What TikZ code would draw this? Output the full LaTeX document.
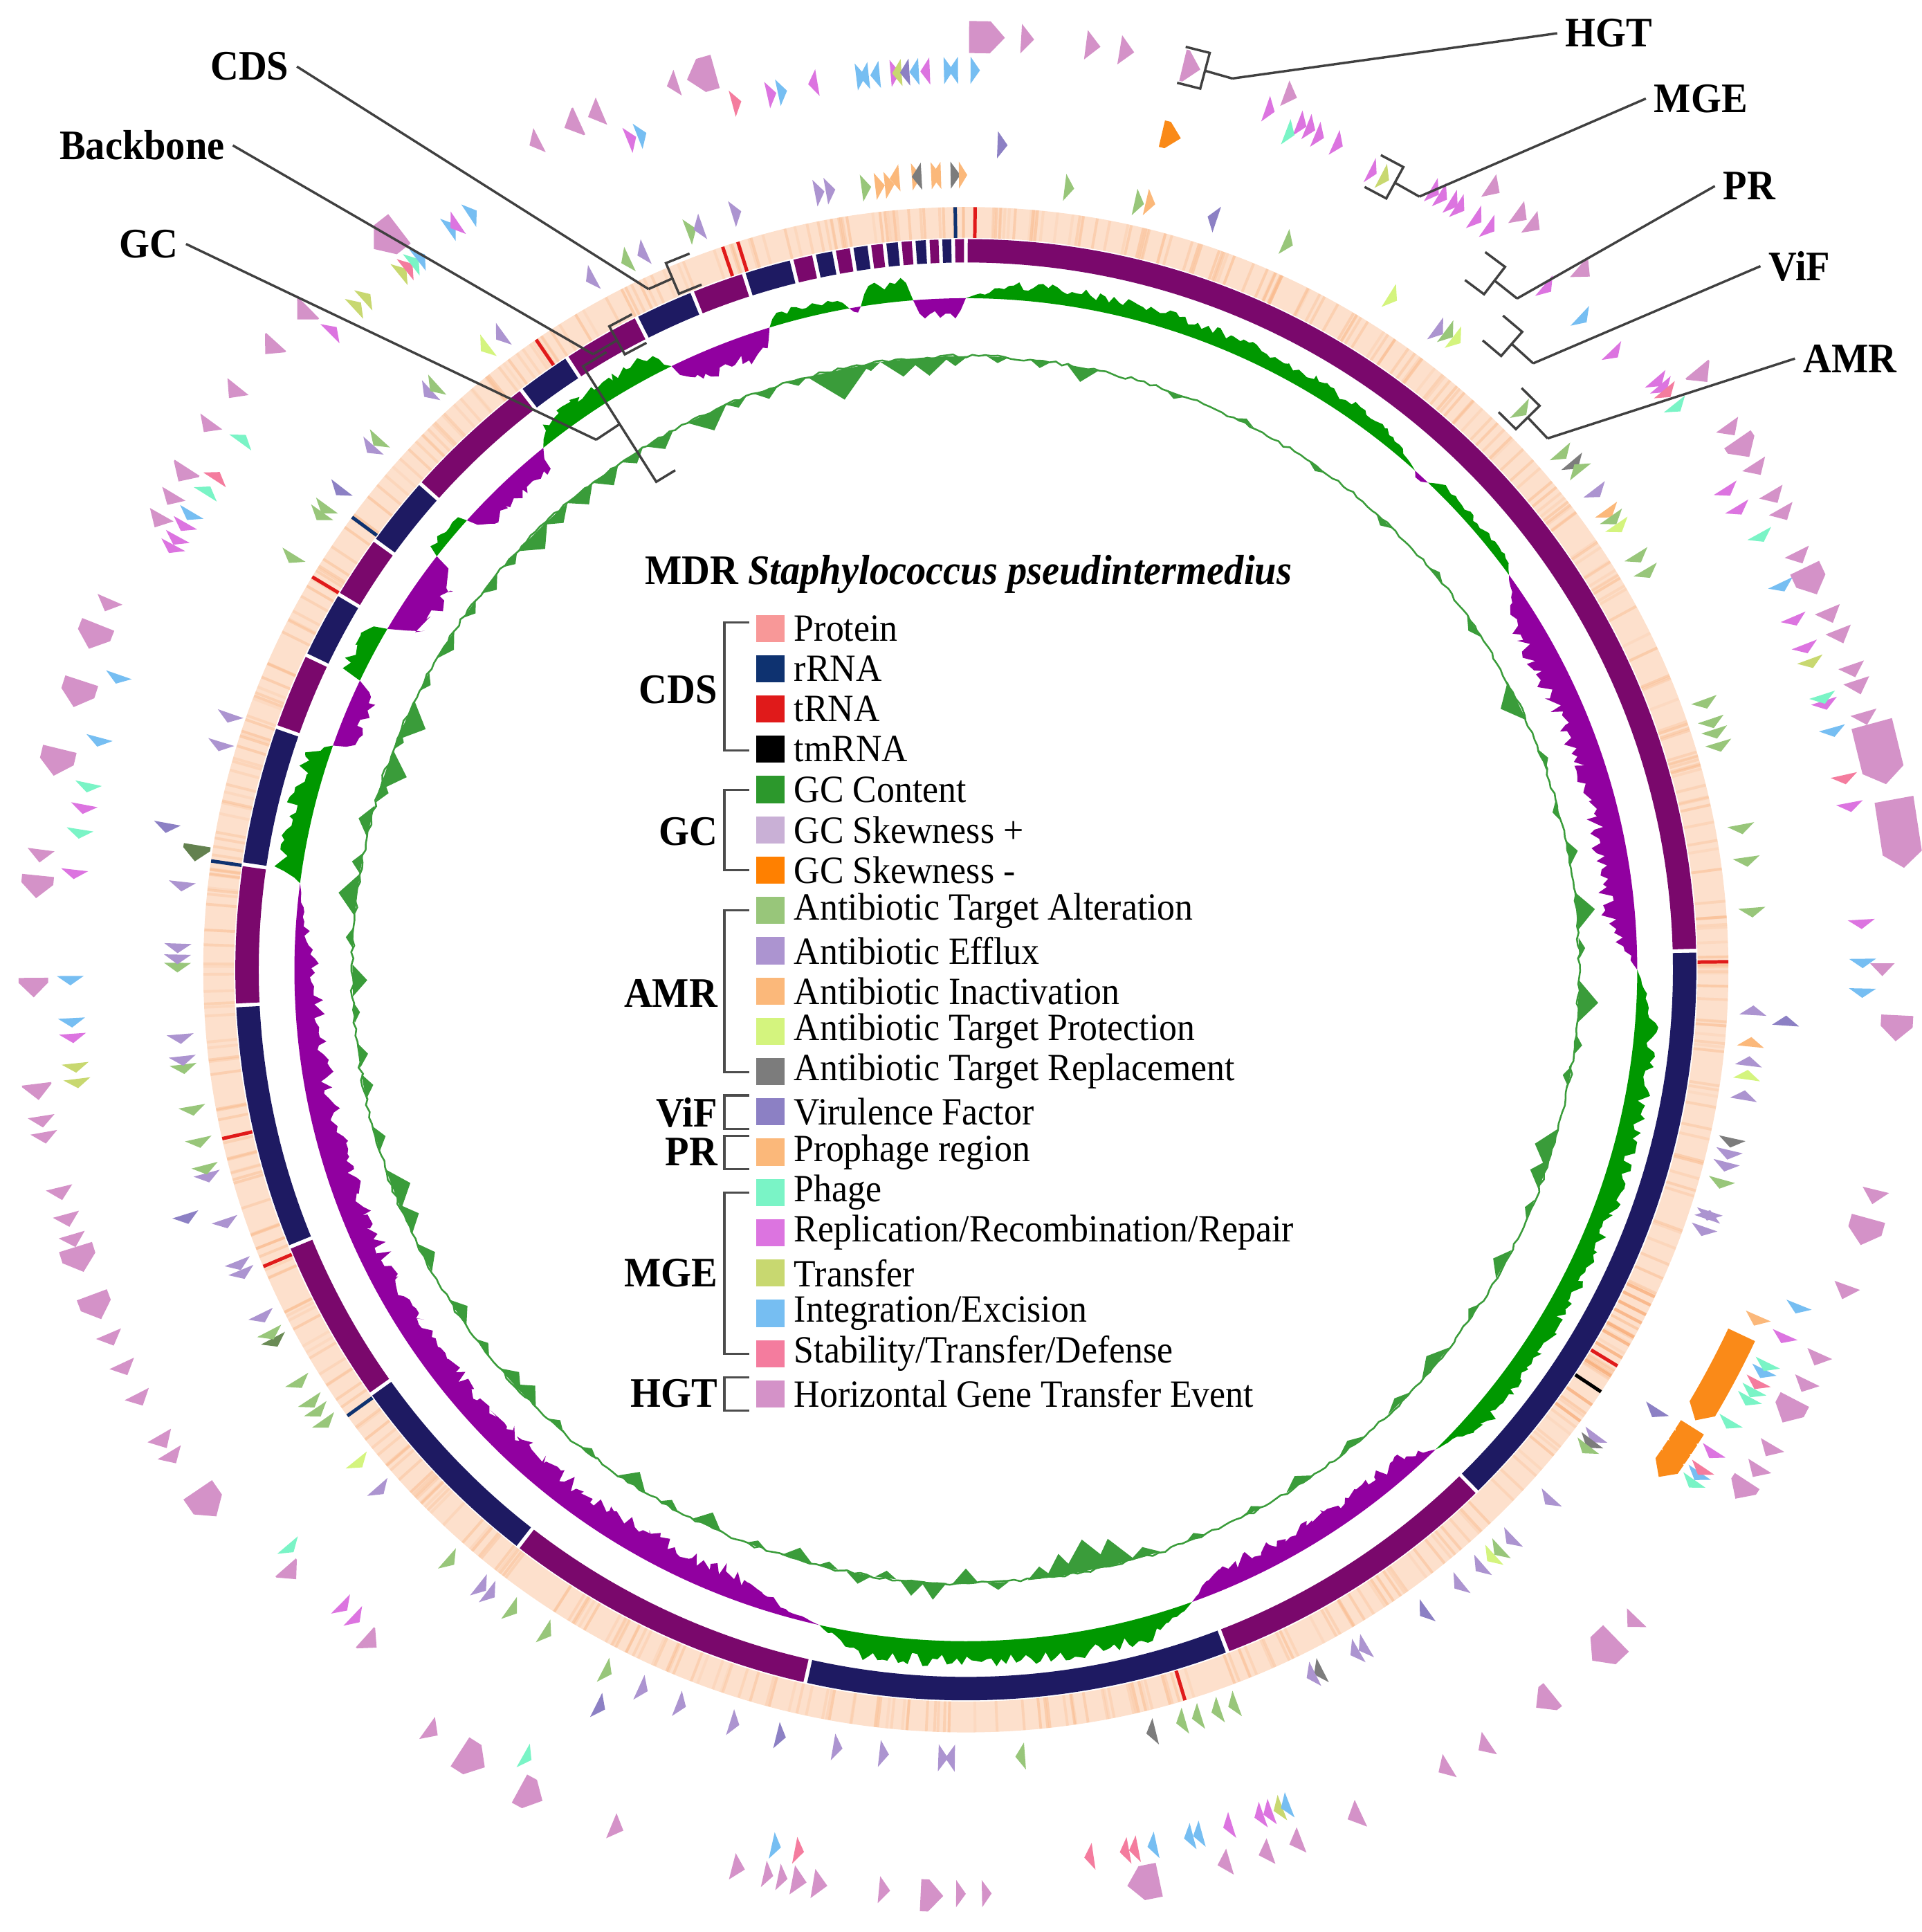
\documentclass[tikz,border=0pt]{standalone}
\usepackage{fontspec}
\setmainfont{Liberation Serif}[FakeStretch=0.93]

\definecolor{bbpurple}{RGB}{122,8,108}
\definecolor{bbnavy}{RGB}{30,26,98}
\definecolor{cdsbg}{RGB}{253,224,204}
\definecolor{cdsln}{RGB}{250,186,140}
\definecolor{cdsdark}{RGB}{247,160,100}
\definecolor{gcgreen}{RGB}{0,152,0}
\definecolor{gcpurple}{RGB}{145,0,160}
\definecolor{skgreen}{RGB}{58,156,58}
\definecolor{cProtein}{RGB}{248,152,152}
\definecolor{cRRNA}{RGB}{14,50,112}
\definecolor{cTRNA}{RGB}{224,26,26}
\definecolor{cGC}{RGB}{44,152,44}
\definecolor{cSkP}{RGB}{201,176,214}
\definecolor{cSkM}{RGB}{255,128,0}
\definecolor{ta}{RGB}{152,198,122}
\definecolor{ef}{RGB}{172,148,208}
\definecolor{ia}{RGB}{251,184,122}
\definecolor{tp}{RGB}{212,244,126}
\definecolor{tr}{RGB}{124,124,124}
\definecolor{vf}{RGB}{140,128,196}
\definecolor{pr}{RGB}{251,184,122}
\definecolor{prb}{RGB}{250,138,24}
\definecolor{ph}{RGB}{122,244,198}
\definecolor{rr}{RGB}{220,116,224}
\definecolor{tf}{RGB}{200,216,112}
\definecolor{ie}{RGB}{118,190,242}
\definecolor{st}{RGB}{244,124,158}
\definecolor{hg}{RGB}{212,146,200}

% one gene arrow: start angle, length (deg, signed), radius, half height, colour
\newcommand\gene[5]{%
  \pgfmathsetmacro\gEnd{#1+#2}%
  \pgfmathsetmacro\gBody{#1+#2-(#2>0?1:-1)*min(abs(#2),0.9)}%
  \fill[fill=#5] ({#1-90}:{#3-#4}) -- ({\gBody-90}:{#3-#4}) -- ({\gEnd-90}:#3)
    -- ({\gBody-90}:{#3+#4}) -- ({#1-90}:{#3+#4}) -- cycle;}

% bracket on a track: name, angle, r1, r2, tick, stub
\newcommand\trackmark[6]{%
  \coordinate (#1t1) at ({#2+#5-90}:#3);
  \coordinate (#1b1) at ({#2-90}:#3);
  \coordinate (#1b2) at ({#2-90}:#4);
  \coordinate (#1t2) at ({#2+#5-90}:#4);
  \coordinate (#1m) at ({#2-90}:{(#3+#4)/2});
  \coordinate (#1e) at ({#2+#6-90}:{(#3+#4)/2});
  \draw[leader] (#1t1) -- (#1b1) -- (#1b2) -- (#1t2);
  \draw[leader] (#1m) -- (#1e);}

\tikzset{
  leader/.style={draw=black!75, line width=0.55pt},
  outlbl/.style={font=\fontsize{9.7}{11}\selectfont\bfseries, inner sep=0.6mm},
  grplbl/.style={font=\fontsize{9.7}{11}\selectfont\bfseries, inner sep=0pt, anchor=east},
  item/.style={font=\fontsize{8.9}{10}\selectfont, inner sep=0pt, anchor=west},
  legbrace/.style={draw=black!70, line width=0.5pt}
}

\begin{document}
\begin{tikzpicture}[x=0.1mm, y=-0.1mm]
\useasboundingbox (0,0) rectangle (1560,1568);
\pgfmathsetseed{42}

\begin{scope}[shift={(784,787)}]
  % CDS ring
  \fill[cdsbg, even odd rule] (0,0) circle[radius=619] (0,0) circle[radius=594];
  \foreach \i in {1,...,520}{
    \pgfmathsetmacro\ang{360*rnd}
    \pgfmathsetmacro\op{0.15+0.4*rnd}
    \draw[cdsln, line width=0.22mm, opacity=\op] ({\ang-90}:594) -- ({\ang-90}:619);
  }
  \foreach \ang in {115.4,116.1,116.9,117.6,118.8,119.5,120.6,122.2,124.8,126.3}
    \draw[cdsdark, line width=0.25mm, opacity=0.6] ({\ang-90}:594) -- ({\ang-90}:619);
  \foreach \ang/\cl in {0.7/cTRNA, 325.7/cTRNA, 341.4/cTRNA, 342.6/cTRNA, 301/cTRNA,
      257.2/cTRNA, 247.1/cTRNA, 89.4/cTRNA, 121.3/cTRNA, 163.3/cTRNA,
      359.2/cRRNA, 278.2/cRRNA, 306.4/cRRNA, 234.2/cRRNA, 123.6/black}
    \draw[draw=\cl, line width=0.28mm] ({\ang-90}:594) -- ({\ang-90}:619);

  % backbone
  \foreach \pa/\pb/\cl in {0/88.5/bbpurple, 88.5/135.6/bbnavy, 135.6/159/bbpurple,
      159/192.7/bbnavy, 192.7/217.8/bbpurple, 217.8/234.5/bbnavy, 234.5/247.7/bbpurple,
      247.7/267.2/bbnavy, 267.2/278.3/bbpurple, 278.3/289.4/bbnavy, 289.4/295.5/bbpurple,
      295.5/300.9/bbnavy, 300.9/306/bbpurple, 306/311.7/bbnavy, 311.7/322.5/bbpurple,
      322.5/326.9/bbnavy, 326.9/333.2/bbpurple, 333.2/338/bbnavy, 338/342.3/bbpurple,
      342.3/346.2/bbnavy, 346.2/348/bbpurple, 348/349.6/bbnavy, 349.6/351/bbpurple,
      351/352.4/bbnavy, 352.4/353.6/bbpurple, 353.6/354.8/bbnavy, 354.8/355.9/bbpurple,
      355.9/357/bbnavy, 357/358/bbpurple, 358/359/bbnavy, 359/360/bbpurple}{
    \pgfmathsetmacro\sa{\pa+0.15}
    \pgfmathsetmacro\sb{\pb-0.15}
    \fill[fill=\cl] ({\sa-90}:574) arc[start angle=\sa-90, end angle=\sb-90, radius=574]
      -- ({\sb-90}:593) arc[start angle=\sb-90, end angle=\sa-90, radius=593] -- cycle;
  }

  % GC plot
  \foreach \pa/\pb/\psg/\pam in {0/42/1/16, 42/43.5/-1/5, 43.5/54/1/9, 54/90/-1/28,
      90/135.6/1/20, 135.6/160.3/-1/22, 160.3/192.6/1/22, 192.6/277.4/-1/26,
      277.4/289.5/1/24, 289.5/295.5/-1/22, 295.5/300.5/1/22, 300.5/308/-1/32,
      308/312/1/10, 312/321/-1/22, 321/334/1/20, 334/343/-1/25, 343/350/1/12,
      350/351/-1/6, 351/355.5/1/20, 355.5/360/-1/18}{
    \ifnum\psg>0 \def\gcc{gcgreen}\else\def\gcc{gcpurple}\fi
    \pgfmathtruncatemacro\ns{max(4,(\pb-\pa)*2.5)}
    \fill[fill=\gcc] plot[variable=\t, domain=\pa:\pb, samples=\ns]
      ({\t-90}:{545+\psg*\pam*min(1,3*sin(180*(\t-\pa)/(\pb-\pa)))*(0.5+0.5*rnd)})
      arc[start angle=\pb-90, end angle=\pa-90, radius=545] -- cycle;
  }

  % GC skew plot
  \draw[skgreen, line width=0.4pt] plot[variable=\t, domain=0:360, samples=600]
    ({\t-90}:{498+3*rnd-1.5});
  \foreach \ang/\hh/\ww in {3/-5/1, 7/-6/1, 11/-12/1.5, 20/-5/1, 27/4/1, 35/-4/1,
      43/-5/1, 50/4/1, 56/-6/1.2, 64/-15/2, 70/5/1, 75/-5/1, 79/8/1.2, 84.5/15/1.8,
      88/5/1, 93/16/2, 97/6/1, 100/-6/1, 107/-15/2, 109.5/-12/1.5, 113/-5/1,
      118.7/-10/1.5, 124/-6/1, 130/-10/2, 135/-6/1.5, 141/-6/1.5, 147/-8/1.5,
      152/-5/1, 158/-5/1, 163/-8/1.5, 166/-22/2, 168.5/-26/2.5, 171/-18/1.5,
      173/-10/1.2, 177/6/1, 180/-12/1.2, 183/14/1.2, 185/12/1.2, 187.5/-6/1,
      190/8/1.2, 193/-5/1, 196/-10/1.5, 200/-5/1, 205/-12/1.5, 209/-6/1,
      213/-12/1.5, 218/-5/1, 222/-6/1, 226/-12/1.5, 228/-10/1.5, 232/-6/1,
      236/-10/1.5, 242/-10/1.5, 246/-12/1.5, 249/-15/2, 254/-8/1.2, 259/-8/1.2,
      262/-8/1.2, 266/-5/1, 269/-12/1.5, 273/6/1, 277/15/2, 280/8/1, 284/10/1.5,
      287/-8/1.2, 289/-18/2, 292/-6/1, 294/-18/2, 298/-6/1, 302/-8/1.5, 306/-6/1,
      309/-8/1.2, 312/-6/1, 315/-15/2, 318/-10/1.5, 321/-12/1.5, 324/-12/1.5,
      327/-8/1.2, 330/-10/1.5, 335/-15/2, 338/-6/1, 341/-8/1.2, 344/-5/1,
      348/-25/3, 351/-6/1, 354/-14/2, 356.5/-15/2, 359/-8/1.2}
    \fill[skgreen] ({\ang-\ww-90}:498) -- ({\ang-90}:{498+\hh}) -- ({\ang+\ww-90}:498) -- cycle;

  % AMR and ViF
  \foreach \ga/\gl/\gr/\gc in {339.3/0.7/640/ta, 340.5/-0.7/640/ef, 342.8/0.7/642/ef,
      349/0.7/642/ef, 349.8/0.7/642/ef, 352.4/0.7/640/ta, 353.4/0.7/640/ia, 354.1/0.7/640/ia,
      355.2/-0.7/645/ia, 356.1/0.7/645/ia, 356.8/-0.7/645/tr, 357.5/0.7/645/ia,
      358.2/-0.7/645/ia, 358.9/0.7/645/tr, 359.5/0.6/645/ia, 7.2/0.7/640/ta,
      12.4/0.7/638/ta, 13.2/0.7/640/ia, 23.6/0.7/645/ta, 32.1/0.7/646/tp,
      36.2/0.7/645/ef, 36.9/0.7/648/ta, 37.6/0.7/648/tp, 44.6/0.7/640/ta, 48.9/0.7/640/ta,
      50/0.7/642/tr, 51/-0.7/642/ta, 52.6/0.7/642/ef, 54.3/0.7/640/ia, 54.9/0.7/640/ta,
      55.6/0.7/640/tp, 58.2/0.7/640/ta, 59.5/0.7/640/ta, 69.9/0.7/638/ta, 71.4/0.7/638/ta,
      72.2/0.7/638/ta, 73.2/0.7/638/ta, 79.4/0.7/640/ta, 81.8/0.7/640/ta, 85.5/0.7/640/ta,
      93.3/-0.7/640/ef, 95.6/-0.7/640/ia, 97/-0.7/640/ef, 98/-0.7/640/tp, 99.5/-0.7/640/ef,
      102.4/0.7/637/tr, 103.3/0.7/637/ef, 104.2/0.7/637/ef, 105.5/0.7/637/ta,
      108/0.7/635/ef, 108.6/-0.7/635/ef, 109.2/0.7/635/ef, 126.4/0.7/636/ef,
      126.9/0.7/636/tr, 127.4/0.7/636/ta, 132/0.7/640/ef, 136/0.7/640/ef, 137.2/0.7/640/ta,
      137.9/0.7/640/tp, 139/0.7/640/ef, 141/0.7/640/ef, 149.3/0.7/638/ef, 150/0.7/638/ef,
      153/0.7/638/tr, 153.6/0.7/638/ef, 159.7/0.7/635/ta, 161/0.7/635/ta, 162.5/0.7/635/ta,
      163.7/0.7/635/ta, 166/0.7/637/tr, 175.7/0.7/640/ta, 180.8/0.7/640/ef, 182/-0.7/640/ef,
      186.3/-0.7/640/ef, 189.7/-0.7/640/ef, 197.4/-0.7/640/ef, 201.5/-0.7/640/ef,
      204.5/-0.7/640/ef, 207.4/-0.7/640/ta, 212.6/-0.7/637/ta, 215.6/-0.7/637/ta,
      217.6/-0.7/637/ef, 218.4/-0.7/637/ef, 221.4/-0.7/637/ta, 228.7/-0.7/636/ef,
      231.2/-0.7/635/tp, 235/-0.7/637/ta, 236/-0.7/637/ta, 236.8/-0.7/637/ta,
      238.5/-0.7/637/ta, 242/-0.7/637/ta!70!black, 242.6/-0.7/637/ta, 244/-0.7/637/ef,
      247.5/-0.7/637/ef, 248.2/-0.7/637/ef, 251.4/-0.7/635/ef, 255/-0.7/638/ef,
      255.6/-0.7/638/ta, 257.6/-0.7/638/ta, 260/-0.7/638/ta, 263.1/-0.7/640/ta,
      263.7/-0.7/640/ef, 265.3/-0.7/640/ef, 270.5/-0.7/640/ta, 271.1/-0.7/640/ef,
      271.9/-0.7/640/ef, 276.4/-0.7/640/ef, 279.2/-1.2/632/ta!65!black, 287/-0.7/632/ef,
      289.2/-0.7/632/ef, 301.7/-0.7/641/ta, 305.4/-0.7/641/ta, 306/-0.7/641/ta,
      311.5/-0.7/642/ef, 312.2/-0.7/642/ta, 317.3/-0.7/640/ef, 317.9/-0.7/640/ta,
      322.6/-0.7/638/tp, 324/-0.7/638/ef, 331.8/-0.7/638/ef, 334.7/-0.7/638/ta,
      336/-0.7/638/ef, 2.2/0.7/670/vf, 18.5/-0.7/642/vf, 93.9/-0.7/667/vf,
      122.4/0.7/665/vf, 144.2/0.7/641/vf, 193.9/-0.7/640/vf, 206.7/-0.7/668/vf,
      252.6/-0.7/664/vf, 280.4/-0.7/659/vf, 307.7/-0.7/640/vf, 113.6/0.7/702/ia}
    \gene{\ga}{\gl}{\gr}{11}{\gc};

  % prophage regions
  \gene{13.2}{1.3}{697}{11}{prb}
  \foreach \ga in {115.2,116,...,120.2}
    \gene{\ga}{1.7}{696}{12}{prb};
  \foreach \ga in {122.2,123,...,125.4}
    \gene{\ga}{1.6}{697}{11}{prb};

  % MGE
  \foreach \ga/\gl/\gr/\gc in {353/0.6/730/ie, 353.8/-0.6/730/ie, 354.5/-0.6/730/ie,
      355.2/0.6/730/rr, 355.9/-0.6/730/tf, 356.4/-0.6/730/vf, 357/-0.6/730/ie,
      357.7/-0.6/730/rr, 358.6/0.6/730/ie, 359.5/-0.6/730/ie, 0.3/0.6/730/ie,
      350.5/-0.6/730/rr, 347.2/0.6/728/rr, 347.9/0.6/728/ie, 344.9/0.6/728/st,
      337.8/0.6/727/rr, 338.5/0.6/727/ie, 325/0.6/733/ie, 325.8/-0.6/733/rr,
      326.6/0.6/733/ie, 320.8/0.6/728/tf, 321.3/0.6/728/st, 321.8/0.6/728/ph,
      322.3/0.6/728/ie, 317.2/0.6/731/tf, 318/0.6/731/tf, 315/0.6/730/rr, 306/0.6/728/ph,
      303.1/0.6/728/st, 302/0.6/728/ph, 300.6/-0.6/730/ie, 299.8/-0.6/730/rr,
      298.8/-0.6/730/rr, 298.2/-0.6/730/rr, 289.2/-0.6/728/ie, 285/-0.6/728/ie,
      282/-0.6/728/ph, 280.6/-0.6/728/rr, 279/-0.6/728/ph, 276.4/-0.6/728/rr,
      269.6/-0.6/727/ie, 266.9/-0.6/727/ie, 265.9/-0.6/727/rr, 264/-0.6/727/tf,
      263/-0.6/727/tf, 229.7/-0.6/722/ph, 224.6/-0.6/723/rr, 223.5/-0.6/723/rr,
      209.4/-0.6/732/ph, 192.5/-0.6/728/ie, 191/-0.6/728/st, 171.8/0.6/727/st,
      169.5/0.6/727/st, 168.9/0.6/727/st, 167.7/0.6/727/ie, 165.3/0.6/727/ie,
      164.7/0.6/727/ie, 162.7/0.6/727/rr, 160/0.6/727/rr, 160.6/0.6/727/rr,
      159.3/0.6/727/tf, 158.8/0.6/727/ie, 125/0.6/722/ph, 124.4/0.6/722/ie,
      124/0.6/722/st, 122.7/0.6/722/rr, 120.5/0.6/721/ph, 118.6/0.6/725/ph,
      118/0.6/725/ph, 117.4/0.6/725/st, 116.6/0.6/725/ie, 116.1/0.6/725/ph,
      114/0.6/728/rr, 111.9/0.6/729/ie, 91.2/0.6/728/ie, 89.3/0.6/728/ie, 86.8/0.6/728/rr,
      79.3/0.6/730/rr, 77.5/0.6/730/st, 74.4/0.6/730/ie, 72.6/0.6/730/rr, 72.2/0.6/730/ph,
      69.8/0.6/730/tf, 68.8/0.6/730/rr, 66.9/0.6/730/rr, 64.6/0.6/732/ie, 61.2/0.6/735/ph,
      59/0.6/730/rr, 57.6/0.6/730/rr, 51.4/0.6/736/ph, 49.4/0.6/737/rr, 49.9/0.6/737/rr,
      50.3/0.6/737/st, 46.2/0.6/726/rr, 43.2/0.6/728/ie, 40.2/0.6/727/rr, 35/0.6/737/rr,
      34/0.6/737/rr, 32.7/0.6/737/rr, 32.2/0.6/737/rr, 31.4/0.6/737/rr, 30.8/0.6/737/rr,
      27.6/0.6/727/tf, 26.8/0.5/727/rr, 24/0.6/735/rr, 22.7/0.6/735/rr, 22/0.6/738/rr,
      21.4/0.6/738/rr, 20.9/0.6/728/ph, 19.2/0.6/740/rr}
    \gene{\ga}{\gl}{\gr}{11}{\gc};

  % HGT
  \foreach \ga/\gl/\gr/\gh in {0.2/2.2/757/13, 3.4/0.8/757/12, 7.4/0.9/757/12,
      9.5/0.9/757/12, 13.5/1.1/755/13, 20/0.8/757/11, 33.7/0.8/765/11, 36/0.8/760/11,
      37/0.8/760/11, 41.1/0.9/757/11, 50.6/1.0/768/12, 54.4/0.8/760/11, 55.5/1.3/760/13,
      57.3/0.8/760/11, 59.3/0.8/760/11, 60.5/0.8/760/11, 63.3/0.8/755/11, 64.4/1.8/755/13,
      67.3/0.9/758/11, 68.7/0.9/760/11, 71/0.8/760/11, 72/0.9/760/11, 74/0.8/758/11,
      74.8/3.8/762/17, 79.6/4.2/766/16, 89.6/0.8/744/10, 92.8/1.6/757/13, 103.6/0.9/760/11,
      105.4/1.7/760/14, 109.7/0.9/760/11, 114.2/0.8/760/11, 116/0.8/760/11,
      117.4/1.6/758/13, 120.5/0.8/760/11, 122/0.8/760/11, 123.2/1.3/758/12, 134/0.8/757/11,
      135.8/2.0/757/15, 141/1.3/757/12, 145.9/0.8/758/11, 148.7/0.8/756/11,
      154.9/0.9/756/12, 158.9/0.8/757/11, 160.9/0.8/757/11, 163.5/0.8/755/11,
      168/2.0/755/14, 179/-0.6/750/11, 180.6/-0.6/750/11, 182.8/-1.4/752/13,
      185.4/-0.7/750/11, 189.5/-0.9/752/12, 190.8/-0.9/752/12, 191.7/-0.6/752/11,
      192.6/-0.6/752/11, 194.6/-0.8/752/11, 202.5/-0.8/752/11, 208.6/-1.6/757/13,
      212.9/-1.8/756/14, 215.4/-0.8/755/11, 222/-1.0/729/11, 228.7/-1.0/735/11,
      235.9/-2.0/753/14, 238.8/-0.8/756/11, 240/-0.9/756/11, 242.9/-0.8/756/11,
      245/-0.8/756/11, 247/-0.8/756/11, 249.6/-1.6/757/13, 252.7/-1.6/757/14,
      253.5/-0.8/757/11, 254.8/-0.8/757/11, 256.5/-0.8/757/11, 260/-0.7/760/11,
      261/-0.7/760/11, 263/-1.0/760/12, 269.5/-1.2/757/12, 275.8/-1.4/757/13,
      277.4/-0.8/757/11, 283.7/-1.7/757/14, 288.1/-1.7/755/14, 291.7/-1.6/758/14,
      293.4/-0.8/757/11, 299.5/-0.9/750/11, 301/-0.8/750/11, 302.8/-1.0/752/12,
      306/-0.8/757/11, 308.7/-0.9/757/11, 312.3/-1.0/757/11, 315.2/-1.0/757/12,
      322.6/-2.0/757/15, 332.8/-0.7/757/11, 335.5/-1.0/757/12, 337/-0.9/757/12,
      342/-0.7/757/11, 344.4/-1.8/757/14}
    \gene{\ga}{\gl}{\gr}{\gh}{hg};

  % track brackets
  \trackmark{hgt}{14.9}{740}{770}{-1.5}{1.75}
  \trackmark{mge}{28.6}{713}{742}{-1.6}{1.8}
  \trackmark{prr}{37.5}{691}{719}{-1.6}{1.9}
  \trackmark{vif}{41.1}{661}{687}{-1.7}{2.0}
  \trackmark{amr}{45.5}{626}{653}{-1.8}{2.1}
  \trackmark{cds}{337}{596}{623}{1.9}{-2.0}
  \trackmark{bkb}{331}{571}{597}{2.0}{-2.2}
  \trackmark{gcs}{327.6}{469}{580}{2.2}{-2.5}
\end{scope}

% outer labels
\node[outlbl, anchor=west] (lHGT) at (1264,27) {HGT};
\node[outlbl, anchor=west] (lMGE) at (1336,80) {MGE};
\node[outlbl, anchor=west] (lPR) at (1392,151) {PR};
\node[outlbl, anchor=west] (lViF) at (1429,216) {ViF};
\node[outlbl, anchor=west] (lAMR) at (1457,291) {AMR};
\node[outlbl, anchor=east] (lCDS) at (241,54) {CDS};
\node[outlbl, anchor=east] (lBackbone) at (189,118) {Backbone};
\node[outlbl, anchor=east] (lGC) at (151,198) {GC};

\draw[leader] (lHGT.west) -- (hgte);
\draw[leader] (lMGE.west) -- (mgee);
\draw[leader] (lPR.west) -- (prre);
\draw[leader] (lViF.west) -- (vife);
\draw[leader] (lAMR.west) -- (amre);
\draw[leader] (lCDS.east) -- (cdse);
\draw[leader] (lBackbone.east) -- (bkbe);
\draw[leader] (lGC.east) -- (gcse);

% legend
\node[anchor=west, font=\fontsize{9.7}{11}\selectfont\bfseries, inner sep=0pt] (title)
  at (523,466) {MDR \textit{Staphylococcus pseudintermedius}};
\foreach \cl/\txt [count=\k from 0] in {cProtein/Protein, cRRNA/rRNA, cTRNA/tRNA,
    black/tmRNA, cGC/GC Content, cSkP/GC Skewness +, cSkM/GC Skewness -,
    ta/Antibiotic Target Alteration, ef/Antibiotic Efflux, ia/Antibiotic Inactivation,
    tp/Antibiotic Target Protection, tr/Antibiotic Target Replacement, vf/Virulence Factor,
    pr/Prophage region, ph/Phage, rr/{Replication/Recombination/Repair}, tf/Transfer,
    ie/{Integration/Excision}, st/{Stability/Transfer/Defense},
    hg/Horizontal Gene Transfer Event}{
  \pgfmathsetmacro\yy{510+32.7*\k}
  \fill[fill=\cl] (614,\yy-11) rectangle (637,\yy+11);
  \node[item] (item\k) at (644,\yy) {\txt};
}

\draw[legbrace] (608,505) -- (588,505) -- (588,609) -- (608,609);
\draw[legbrace] (608,641) -- (588,641) -- (588,706) -- (608,706);
\draw[legbrace] (608,739) -- (588,739) -- (588,870) -- (608,870);
\draw[legbrace] (608,889) -- (588,889) -- (588,916) -- (608,916);
\draw[legbrace] (608,922) -- (588,922) -- (588,949) -- (608,949);
\draw[legbrace] (608,968) -- (588,968) -- (588,1099) -- (608,1099);
\draw[legbrace] (608,1118) -- (588,1118) -- (588,1145) -- (608,1145);

\node[grplbl] (gCDS) at (583,560) {CDS};
\node[grplbl] (gGC) at (583,675) {GC};
\node[grplbl] (gAMR) at (583,806) {AMR};
\node[grplbl] (gViF) at (583,903) {ViF};
\node[grplbl] (gPR) at (583,935) {PR};
\node[grplbl] (gMGE) at (583,1033) {MGE};
\node[grplbl] (gHGT) at (583,1131) {HGT};
\end{tikzpicture}
\end{document}
